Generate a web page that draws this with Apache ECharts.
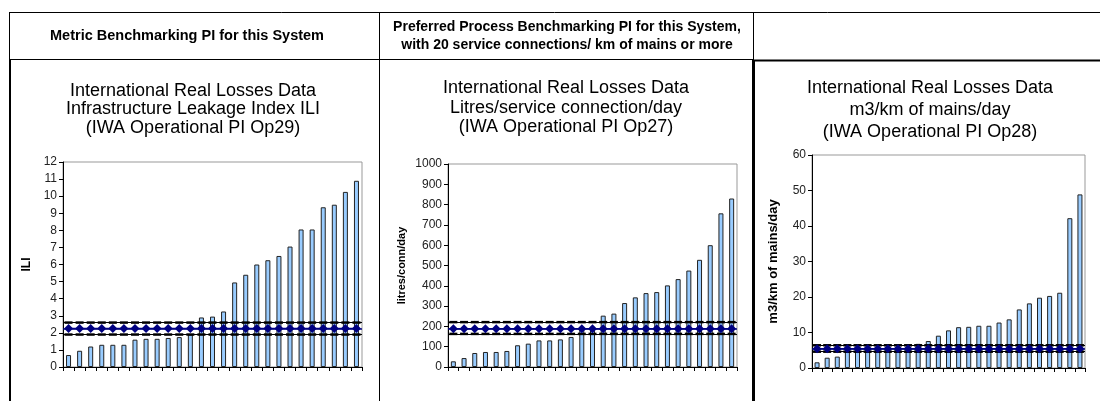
<!DOCTYPE html>
<html>
<head>
<meta charset="utf-8">
<script src="https://cdn.jsdelivr.net/npm/echarts@6/dist/echarts.min.js"></script>
<style>
html,body{margin:0;padding:0;background:#fff;}
#chart{width:1100px;height:401px;}
</style>
</head>
<body>
<div id="chart"></div>
<script>
// ---------- data ----------
const categories = ['1','2','3','4','5','6','7','8','9','10','11','12','13','14','15','16','17','18','19','20','21','22','23','24','25','26','27'];

const headerTexts = [
  'Metric Benchmarking PI for this System',
  'Preferred Process Benchmarking PI for this System,\nwith 20 service connections/ km of mains or more',
  ''
];
const chartTitles = [
  'International Real Losses Data\nInfrastructure Leakage Index ILI\n(IWA Operational PI Op29)',
  'International Real Losses Data\nLitres/service connection/day\n(IWA Operational PI Op27)',
  'International Real Losses Data\nm3/km of mains/day\n(IWA Operational PI Op28)'
];
const yNames = ['ILI', 'litres/conn/day', 'm3/km of mains/day'];

// Op29 ILI
const iliValues = [0.7,0.95,1.2,1.3,1.3,1.3,1.6,1.65,1.65,1.7,1.75,1.9,2.9,2.95,3.25,4.95,5.4,6.0,6.25,6.5,7.05,8.05,8.05,9.35,9.5,10.25,10.9];
const iliMean  = [2.25,2.25,2.25,2.25,2.25,2.25,2.25,2.25,2.25,2.25,2.25,2.25,2.25,2.25,2.25,2.25,2.25,2.25,2.25,2.25,2.25,2.25,2.25,2.25,2.25,2.25,2.25];
const iliUpper = [2.6,2.6,2.6,2.6,2.6,2.6,2.6,2.6,2.6,2.6,2.6,2.6,2.6,2.6,2.6,2.6,2.6,2.6,2.6,2.6,2.6,2.6,2.6,2.6,2.6,2.6,2.6];
const iliLower = [1.9,1.9,1.9,1.9,1.9,1.9,1.9,1.9,1.9,1.9,1.9,1.9,1.9,1.9,1.9,1.9,1.9,1.9,1.9,1.9,1.9,1.9,1.9,1.9,1.9,1.9,1.9];
const iliTicks = {min: 0, max: 12, interval: 1};

// Op27 litres/connection/day
const lcdValues = [28,44,69,74,74,79,107,115,131,131,136,148,190,198,253,263,315,343,364,369,402,433,475,528,600,757,830];
const lcdMean  = [189,189,189,189,189,189,189,189,189,189,189,189,189,189,189,189,189,189,189,189,189,189,189,189,189,189,189];
const lcdUpper = [221,221,221,221,221,221,221,221,221,221,221,221,221,221,221,221,221,221,221,221,221,221,221,221,221,221,221];
const lcdLower = [163,163,163,163,163,163,163,163,163,163,163,163,163,163,163,163,163,163,163,163,163,163,163,163,163,163,163];
const lcdTicks = {min: 0, max: 1000, interval: 100};

// Op28 m3/km mains/day
const mkdValues = [1.6,2.9,3.2,4.7,5.0,5.4,5.6,5.7,5.8,5.9,6.8,7.6,9.1,10.6,11.5,11.6,11.9,11.9,12.8,13.7,16.5,18.2,19.8,20.3,21.2,42.2,48.9];
const mkdMean  = [5.45,5.45,5.45,5.45,5.45,5.45,5.45,5.45,5.45,5.45,5.45,5.45,5.45,5.45,5.45,5.45,5.45,5.45,5.45,5.45,5.45,5.45,5.45,5.45,5.45,5.45,5.45];
const mkdUpper = [6.4,6.4,6.4,6.4,6.4,6.4,6.4,6.4,6.4,6.4,6.4,6.4,6.4,6.4,6.4,6.4,6.4,6.4,6.4,6.4,6.4,6.4,6.4,6.4,6.4,6.4,6.4];
const mkdLower = [4.6,4.6,4.6,4.6,4.6,4.6,4.6,4.6,4.6,4.6,4.6,4.6,4.6,4.6,4.6,4.6,4.6,4.6,4.6,4.6,4.6,4.6,4.6,4.6,4.6,4.6,4.6];
const mkdTicks = {min: 0, max: 60, interval: 10};

// ---------- layout ----------
const FONT = "'Liberation Sans', Arial, sans-serif";
const panels = [
  {grid:{left:63, top:162, width:299, height:205}, values:iliValues, mean:iliMean, upper:iliUpper, lower:iliLower, ticks:iliTicks,
   titleX:193, line1:91, titleLH:18.5, nameGap:30, nameSize:12},
  {grid:{left:448, top:164, width:289, height:203}, values:lcdValues, mean:lcdMean, upper:lcdUpper, lower:lcdLower, ticks:lcdTicks,
   titleX:566, line1:88.5, titleLH:19.5, nameGap:41, nameSize:11},
  {grid:{left:812, top:155, width:273, height:213}, values:mkdValues, mean:mkdMean, upper:mkdUpper, lower:mkdLower, ticks:mkdTicks,
   titleX:930, line1:88, titleLH:22, nameGap:32, nameSize:13}
];

const grids = [], xAxes = [], yAxes = [], series = [], titles = [];
panels.forEach((p, i) => {
  grids.push(Object.assign({show:true, borderColor:'#999', borderWidth:1, backgroundColor:'transparent'}, p.grid));
  titles.push({
    text: chartTitles[i], left: p.titleX, top: p.line1 - p.titleLH / 2, textAlign: 'center', padding: 0,
    textStyle: {fontFamily: FONT, fontSize: 18, fontWeight: 'normal', color: '#000', lineHeight: p.titleLH}
  });
  xAxes.push({
    type:'category', gridIndex:i, data:categories, boundaryGap:true,
    axisLine:{show:true, lineStyle:{color:'#000', width:1}},
    axisTick:{show:true, interval:0, alignWithLabel:false, length:4, lineStyle:{color:'#000'}},
    axisLabel:{show:false}, splitLine:{show:false}
  });
  yAxes.push({
    type:'value', gridIndex:i, min:p.ticks.min, max:p.ticks.max, interval:p.ticks.interval,
    name: yNames[i], nameLocation:'middle', nameGap:p.nameGap, nameRotate:90,
    nameTextStyle:{fontFamily:FONT, fontSize:p.nameSize, fontWeight:'bold', color:'#000'},
    axisLine:{show:true, lineStyle:{color:'#000', width:1}},
    axisTick:{show:true, length:4, lineStyle:{color:'#000'}},
    axisLabel:{fontFamily:FONT, fontSize:12, color:'#222', margin:6, formatter: v => String(v)},
    splitLine:{show:false}
  });
  series.push({
    type:'bar', xAxisIndex:i, yAxisIndex:i, data:p.values, barWidth:5,
    itemStyle:{color:'#99CCFF', borderColor:'#222', borderWidth:1},
    z:2, animation:false
  });
  const fullLine = (val, color, w) => ({
    silent:true, symbol:'none', animation:false, label:{show:false},
    lineStyle:{color:color, width:w, type:'solid'},
    data:[{yAxis:val[0]}]
  });
  series.push({
    type:'line', xAxisIndex:i, yAxisIndex:i, data:p.upper, symbol:'rect', symbolSize:[8,2.5],
    showSymbol:true, showAllSymbol:true,
    itemStyle:{color:'#000'}, lineStyle:{width:0}, z:3, animation:false,
    markLine: fullLine(p.upper, '#000', 1.2)
  });
  series.push({
    type:'line', xAxisIndex:i, yAxisIndex:i, data:p.lower, symbol:'rect', symbolSize:[8,2.5],
    showSymbol:true, showAllSymbol:true,
    itemStyle:{color:'#000'}, lineStyle:{width:0}, z:3, animation:false,
    markLine: fullLine(p.lower, '#000', 1.2)
  });
  series.push({
    type:'line', xAxisIndex:i, yAxisIndex:i, data:p.mean, symbol:'diamond', symbolSize:9,
    showSymbol:true, showAllSymbol:true,
    itemStyle:{color:'#000080', borderWidth:0}, lineStyle:{color:'#000080', width:1.5}, z:5, animation:false,
    markLine: fullLine(p.mean, '#000080', 1.5)
  });
});

// table frame
const L = (x1,y1,x2,y2,w) => ({type:'line', silent:true, z:100,
  shape:{x1:x1,y1:y1,x2:x2,y2:y2}, style:{stroke:'#000', lineWidth:w}});
const graphics = [
  L(9, 12.5, 1100, 12.5, 1),
  L(9, 59.5, 753, 59.5, 1),
  L(753, 60.5, 1100, 60.5, 2),
  L(9.5, 12, 9.5, 60, 1),
  L(379.5, 12, 379.5, 401, 1),
  L(753.5, 12, 753.5, 60, 1),
  L(10, 60, 10, 401, 2),
  L(753.5, 60, 753.5, 401, 3),
  {type:'text', silent:true, z:100, x:187, y:36,
   style:{text:headerTexts[0], font:"bold 14.5px "+FONT, fill:'#000', align:'center', verticalAlign:'middle'}},
  {type:'text', silent:true, z:100, x:567, y:36.5,
   style:{text:headerTexts[1], font:"bold 14px "+FONT, fill:'#000', align:'center', verticalAlign:'middle', lineHeight:18}}
];

const chart = echarts.init(document.getElementById('chart'), null, {renderer:'canvas'});
chart.setOption({
  animation:false,
  backgroundColor:'#fff',
  title: titles,
  grid: grids,
  xAxis: xAxes,
  yAxis: yAxes,
  series: series,
  graphic: graphics,
  tooltip:{show:false}
});
</script>
</body>
</html>
